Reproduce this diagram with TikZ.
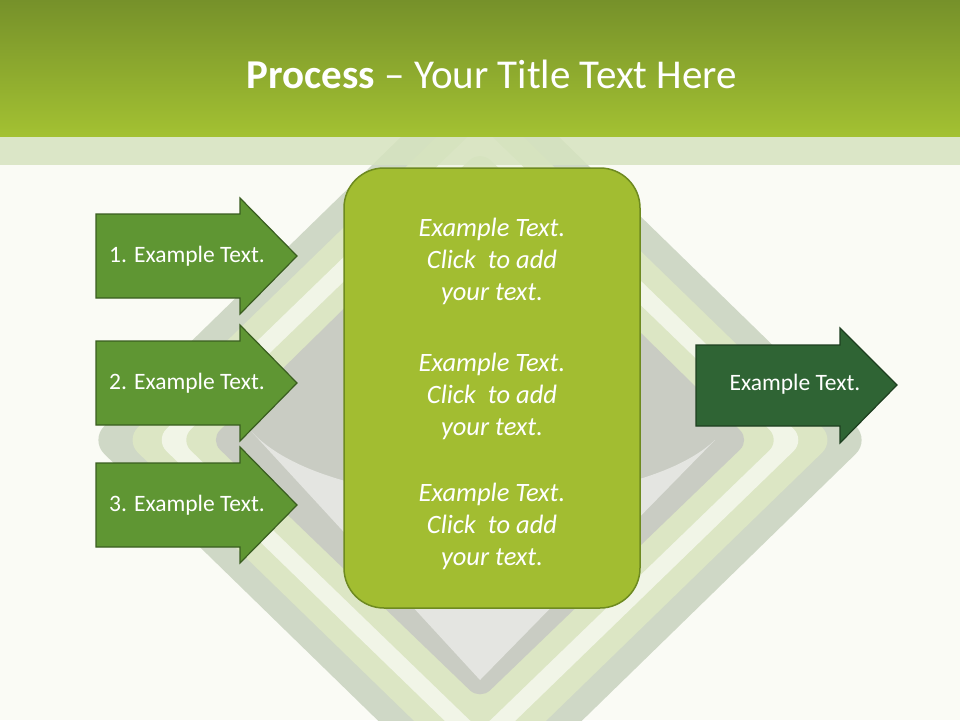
\documentclass[tikz,border=0pt]{standalone}
\usepackage{fontspec}
\setmainfont{Carlito}
\usetikzlibrary{shapes.arrows}
\definecolor{bg}{HTML}{FAFBF5}
\definecolor{htop}{HTML}{76912A}
\definecolor{hbot}{HTML}{A3C132}
\definecolor{band}{HTML}{D6E3BF}
\definecolor{arrf}{HTML}{5F9633}
\definecolor{arrd}{HTML}{3A5E20}
\definecolor{darkf}{HTML}{2F6434}
\definecolor{darkd}{HTML}{1E3F20}
\definecolor{boxf}{HTML}{A2BD31}
\definecolor{boxd}{HTML}{6E8A20}
\definecolor{dg1}{HTML}{DCE6C4}
\definecolor{dg2}{HTML}{CFD8C6}
\definecolor{dg3}{HTML}{C9CCC3}
\begin{document}
\begin{tikzpicture}[x=1pt,y=-1pt,
  inarrow/.style={fill=arrf,draw=arrd,line width=1.2pt},
  outarrow/.style={fill=darkf,draw=darkd,line width=1.2pt},
  lbl/.style={text=white,font=\fontsize{23.5}{26}\selectfont},
  ctext/.style={text=white,align=center,font=\itshape\fontsize{26.5}{32}\selectfont}]
\useasboundingbox (0,0) rectangle (960,720);
\fill[bg] (0,0) rectangle (960,720);
% background diamonds
\fill[dg2,rounded corners=20] (480,60) -- (870,440) -- (480,820) -- (90,440) -- cycle;
\fill[dg1,rounded corners=18] (480,95) -- (835,440) -- (480,785) -- (125,440) -- cycle;
\fill[white!60!dg1,rounded corners=16] (480,125) -- (805,440) -- (480,755) -- (155,440) -- cycle;
\fill[dg1,rounded corners=15] (480,150) -- (780,440) -- (480,730) -- (180,440) -- cycle;
\fill[dg3,rounded corners=14] (480,175) -- (750,440) -- (480,700) -- (210,440) -- cycle;
\fill[white!50!dg3] (250,430) .. controls (330,520) and (630,520) .. (715,440) -- (480,680) -- cycle;
% header
\shade[top color=htop,bottom color=hbot] (0,0) rectangle (960,136);
\fill[band,opacity=0.85] (0,137) rectangle (960,165);
\node (title) at (492,74) {\color{white}\fontsize{41}{46}\selectfont\textbf{Process} – Your Title Text Here};
% center box
\node[draw=boxd,fill=boxf,line width=1.5pt,rounded corners=40,minimum width=296pt,minimum height=440pt] (box) at (492,388) {};
\node[ctext] (t1) at (492,261) {Example Text.\\Click\ \ to add\\your text.};
\node[ctext] (t2) at (492,396) {Example Text.\\Click\ \ to add\\your text.};
\node[ctext] (t3) at (492,526) {Example Text.\\Click\ \ to add\\your text.};
% left arrows
\foreach \n/\y in {1/256,2/383,3/505}{
  \draw[inarrow] (96,\y-42) -- (240,\y-42) -- (240,\y-58) -- (297,\y) -- (240,\y+58) -- (240,\y+42) -- (96,\y+42) -- cycle;
  \node[lbl] (a\n) at (187,\y) {\n. Example Text.};
}
% right arrow
\draw[outarrow] (696,345) -- (840,345) -- (840,328) -- (897,385) -- (840,443) -- (840,426) -- (696,426) -- cycle;
\node[lbl] (out) at (795,384) {Example Text.};
\end{tikzpicture}
\end{document}
